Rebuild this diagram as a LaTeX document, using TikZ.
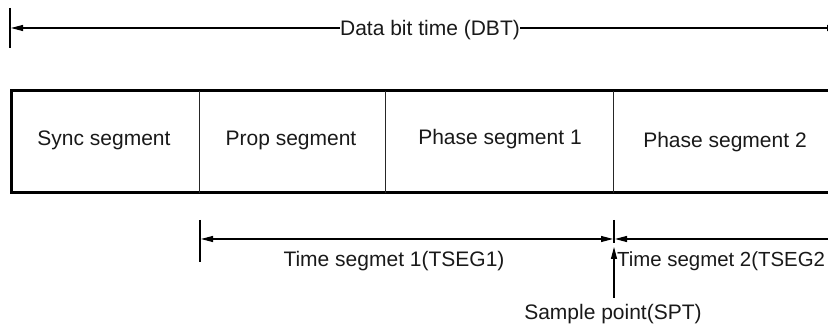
\documentclass[tikz,border=0pt]{standalone}
\usepackage{fontspec}
\setmainfont{Liberation Sans}
\usetikzlibrary{arrows.meta}
\begin{document}
\begin{tikzpicture}[x=1pt,y=-1pt,
  thinline/.style={line width=1.1pt,draw=black},
  boxline/.style={line width=3pt,draw=black},
  divider/.style={line width=1pt,draw=black!85},
  arr/.style={thinline,-{Triangle[length=12pt,width=6pt]}},
  dblarr/.style={thinline,{Triangle[length=12pt,width=6pt]}-{Triangle[length=12pt,width=6pt]}},
  lbl/.style={inner sep=0pt,font=\fontsize{21}{25}\selectfont,text=black!90}]
\useasboundingbox (0,0) rectangle (828,328);
\clip (0,0) rectangle (828,328);
% top dimension
\coordinate (tkAt) at (10,8);
\coordinate (tkAb) at (10,48);
\coordinate (dbtL) at (11,28);
\coordinate (dbtR) at (839,28);
\node[lbl,anchor=base] (dbt) at (430,36) {Data bit time (DBT)};
\draw[thinline] (tkAt) -- (tkAb);
\draw[arr] (dbt.west |- dbtL) -- (dbtL);
\draw[arr] (dbt.east |- dbtR) -- (dbtR);
% box
\coordinate (bTR) at (840,91);
\coordinate (bTL) at (11,91);
\coordinate (bBL) at (11,193);
\coordinate (bBR) at (840,193);
\draw[boxline] (bTR) -- (bTL) -- (bBL) -- (bBR);
\coordinate (d1t) at (199,91); \coordinate (d1b) at (199,193);
\coordinate (d2t) at (385,91); \coordinate (d2b) at (385,193);
\coordinate (d3t) at (613,91); \coordinate (d3b) at (613,193);
\draw[divider] (d1t) -- (d1b);
\draw[divider] (d2t) -- (d2b);
\draw[divider] (d3t) -- (d3b);
\node[lbl,anchor=base] (sync) at (104,146) {Sync segment};
\node[lbl,anchor=base] (prop) at (291,146) {Prop segment};
\node[lbl,anchor=base] (ph1) at (500,145) {Phase segment 1};
\node[lbl,anchor=base] (ph2) at (725,148) {Phase segment 2};
% bottom dimensions
\coordinate (tkBt) at (200,220);
\coordinate (tkBb) at (200,262);
\draw[thinline] (tkBt) -- (tkBb);
\coordinate (tkCt) at (614,220);
\coordinate (tkCb) at (614,243);
\draw[thinline] (tkCt) -- (tkCb);
\coordinate (s1L) at (201,239);
\coordinate (s1R) at (613,239);
\draw[dblarr] (s1L) -- (s1R);
\coordinate (s2L) at (615,239);
\coordinate (s2R) at (840,239);
\draw[dblarr] (s2L) -- (s2R);
\node[lbl,anchor=base] (ts1) at (394,267) {Time segmet 1(TSEG1)};
\node[lbl,anchor=base west,font=\fontsize{20.4}{25}\selectfont] (ts2) at (617,267) {Time segmet 2(TSEG2};
\node[lbl,anchor=base] (spt) at (613,320) {Sample point(SPT)};
\coordinate (sptB) at (614,298);
\coordinate (sptT) at (614,247);
\draw[arr] (sptB) -- (sptT);
\end{tikzpicture}
\end{document}
